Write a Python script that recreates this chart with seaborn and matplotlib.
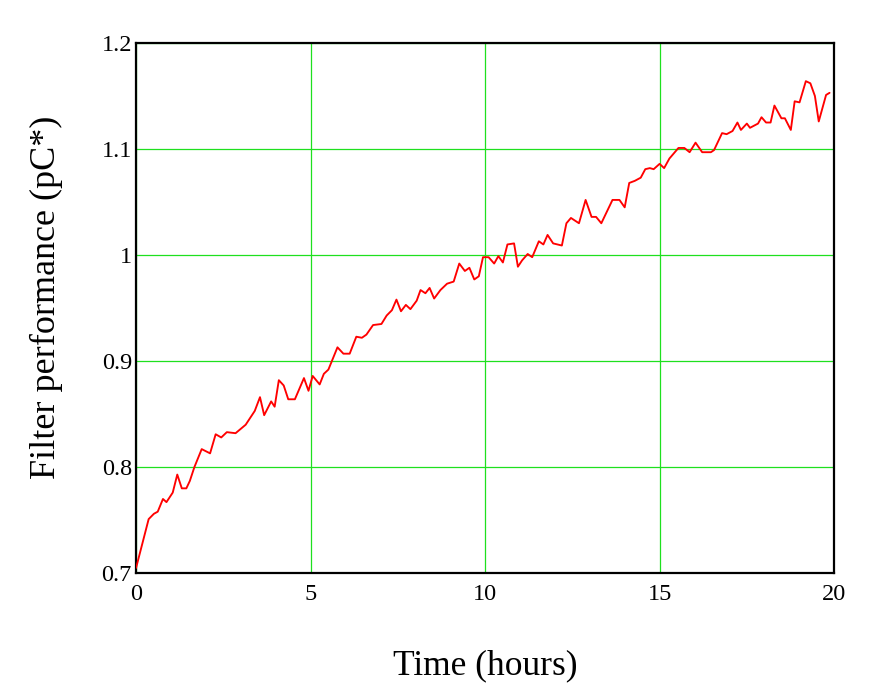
import matplotlib
matplotlib.use("Agg")
import matplotlib.pyplot as plt
import seaborn as sns
import pandas as pd

time_h = [0.0, 0.36, 0.51, 0.62, 0.77, 0.87, 1.05, 1.18, 1.31, 1.44, 1.54, 1.67, 1.88, 2.12, 2.28,
          2.44, 2.6, 2.85, 3.14, 3.4, 3.55, 3.67, 3.87, 3.97, 4.09, 4.23, 4.36, 4.55, 4.81, 4.94,
          5.06, 5.26, 5.38, 5.51, 5.77, 5.94, 6.12, 6.31, 6.47, 6.6, 6.79, 7.03, 7.18, 7.33, 7.46,
          7.59, 7.73, 7.86, 8.04, 8.15, 8.29, 8.41, 8.54, 8.72, 8.91, 9.1, 9.26, 9.42, 9.55, 9.69,
          9.82, 9.94, 10.1, 10.26, 10.38, 10.51, 10.64, 10.83, 10.94, 11.06, 11.22, 11.35, 11.54,
          11.67, 11.79, 11.95, 12.2, 12.33, 12.46, 12.69, 12.88, 13.05, 13.18, 13.33, 13.65, 13.85,
          14.0, 14.13, 14.29, 14.46, 14.59, 14.72, 14.83, 15.0, 15.13, 15.28, 15.54, 15.71, 15.86,
          16.03, 16.22, 16.47, 16.56, 16.79, 16.92, 17.09, 17.23, 17.33, 17.5, 17.59, 17.82, 17.92,
          18.05, 18.18, 18.29, 18.49, 18.59, 18.76, 18.87, 19.01, 19.19, 19.32, 19.45, 19.56,
          19.77, 19.87]
performance = [0.705, 0.751, 0.756, 0.758, 0.770, 0.767, 0.776, 0.793, 0.780, 0.780, 0.787, 0.800,
               0.817, 0.813, 0.831, 0.828, 0.833, 0.832, 0.840, 0.853, 0.866, 0.849, 0.862, 0.857,
               0.882, 0.877, 0.864, 0.864, 0.884, 0.872, 0.886, 0.878, 0.888, 0.892, 0.913, 0.907,
               0.907, 0.923, 0.922, 0.925, 0.934, 0.935, 0.943, 0.948, 0.958, 0.947, 0.953, 0.949,
               0.957, 0.967, 0.964, 0.969, 0.959, 0.967, 0.973, 0.975, 0.992, 0.985, 0.988, 0.977,
               0.980, 0.998, 0.998, 0.992, 0.999, 0.993, 1.010, 1.011, 0.989, 0.995, 1.001, 0.998,
               1.013, 1.010, 1.019, 1.011, 1.009, 1.030, 1.035, 1.030, 1.052, 1.036, 1.036, 1.030,
               1.052, 1.052, 1.045, 1.068, 1.070, 1.073, 1.081, 1.082, 1.081, 1.086, 1.082, 1.091,
               1.101, 1.101, 1.097, 1.106, 1.097, 1.097, 1.099, 1.115, 1.114, 1.117, 1.125, 1.118,
               1.124, 1.120, 1.124, 1.130, 1.125, 1.125, 1.141, 1.129, 1.129, 1.118, 1.145, 1.144,
               1.164, 1.162, 1.150, 1.126, 1.151, 1.153]
x_ticks = [0, 5, 10, 15, 20]
y_ticks = [0.7, 0.8, 0.9, 1.0, 1.1, 1.2]
y_tick_labels = ["0.7", "0.8", "0.9", "1", "1.1", "1.2"]

df = pd.DataFrame({"t": time_h, "p": performance})

sns.set_style("white")
plt.rcParams["font.family"] = ["Liberation Serif", "DejaVu Serif"]

fig = plt.figure(figsize=(8.78, 6.99), dpi=100)
ax = fig.add_axes([0.155, 0.180, 0.795, 0.7585])

sns.lineplot(data=df, x="t", y="p", ax=ax, color="#ff0000", linewidth=1.35, zorder=3)

ax.set_xlim(0, 20)
ax.set_ylim(0.7, 1.2)
ax.set_xticks(x_ticks)
ax.set_xticklabels([str(v) for v in x_ticks])
ax.set_yticks(y_ticks)
ax.set_yticklabels(y_tick_labels)
ax.grid(True, color="#1ee01e", linewidth=0.9)
ax.set_axisbelow(True)
ax.tick_params(axis="both", labelsize=17.5, length=0, colors="black")
ax.tick_params(axis="x", pad=8)
ax.tick_params(axis="y", pad=3)
for s in ax.spines.values():
    s.set_color("black")
    s.set_linewidth(1.6)

ax.set_xlabel("Time (hours)", fontsize=25.5, labelpad=32, color="black")
ax.set_ylabel("Filter performance (pC*)", fontsize=26, color="black")
ax.yaxis.set_label_coords(-0.104, 0.52)

fig.savefig("out.png", dpi=100, facecolor="white")
